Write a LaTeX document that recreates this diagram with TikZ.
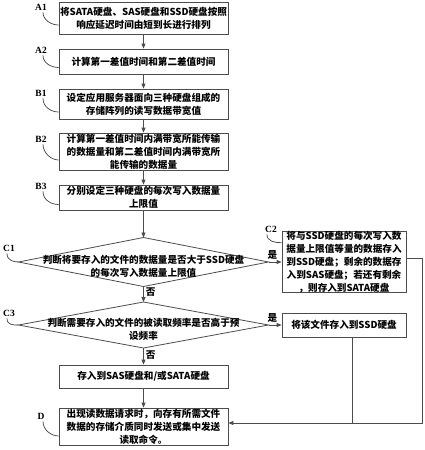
\documentclass[tikz,border=0pt]{standalone}
\usepackage{fontspec}
\setmainfont{Noto Sans CJK SC}
\newfontfamily\labfont{Liberation Serif}
\usetikzlibrary{arrows.meta,shapes.geometric}
\begin{document}
\begin{tikzpicture}[x=1pt,y=-1pt,
  txtfont/.style={font=\fontsize{9.6}{13}\selectfont\bfseries},
  box/.style={draw=black!70, line width=0.8pt, minimum width=169pt, align=center, inner sep=0pt, txtfont},
  sidebox/.style={draw=black!70, line width=0.8pt, minimum width=124pt, align=center, inner sep=0pt, txtfont},
  dia/.style={draw=black!70, line width=0.8pt, shape=diamond, inner sep=0pt, outer sep=0pt, minimum width=250pt},
  diatext/.style={align=center, inner sep=0pt, txtfont},
  arr/.style={draw=black!70, line width=0.8pt, -{Triangle[length=5pt,width=4pt]}},
  conn/.style={draw=black!70, line width=0.8pt},
  lead/.style={draw=black!75, line width=0.7pt},
  lab/.style={font=\labfont\bfseries\fontsize{9.5}{10}\selectfont, inner sep=0pt},
  yn/.style={txtfont, inner sep=2pt}]
\useasboundingbox (0,0) rectangle (425,450);

% main column
\node[box, minimum height=32pt] (a1) at (143.5,18) {将SATA硬盘、SAS硬盘和SSD硬盘按照\\响应延迟时间由短到长进行排列};
\node[box, minimum height=25pt] (a2) at (143.5,61.5) {计算第一差值时间和第二差值时间};
\node[box, minimum height=30pt] (b1) at (143.5,104) {设定应用服务器面向三种硬盘组成的\\存储阵列的读写数据带宽值};
\node[box, minimum height=37pt] (b2) at (143.5,151.5) {计算第一差值时间内满带宽所能传输\\的数据量和第二差值时间内满带宽所\\能传输的数据量};
\node[box, minimum height=25pt] (b3) at (143.5,197.5) {分别设定三种硬盘的每次写入数据量\\上限值};

\node[dia, minimum height=49pt] (c1) at (143.5,262) {};
\node[diatext] (c1t) at (143.5,266.5) {判断将要存入的文件的数据量是否大于SSD硬盘\\的每次写入数据量上限值};
\node[dia, minimum height=46pt] (c3) at (143.5,325) {};
\node[diatext] (c3t) at (143.5,329.5) {判断需要存入的文件的被读取频率是否高于预\\设频率};

\node[box, minimum height=23pt] (sas) at (143.5,376.5) {存入到SAS硬盘和/或SATA硬盘};
\node[box, minimum height=37pt] (d) at (143.5,426.5) {出现读数据请求时，向存有所需文件\\数据的存储介质同时发送或集中发送\\读取命令。};

% side boxes
\node[sidebox, minimum height=58pt] (c2) at (344,262) {将与SSD硬盘的每次写入数\\据量上限值等量的数据存入\\到SSD硬盘；剩余的数据存\\入到SAS硬盘；若还有剩余\\，则存入到SATA硬盘};
\node[sidebox, minimum height=24pt] (ssd) at (344,325) {将该文件存入到SSD硬盘};

% connectors
\draw[arr] (a1) -- (a2);
\draw[arr] (a2) -- (b1);
\draw[arr] (b1) -- (b2);
\draw[arr] (b2) -- (b3);
\draw[arr] (b3) -- (c1.north);
\draw[arr] (c1.south) -- node[yn, right, pos=0.35] {否} (c3.north);
\draw[arr] (c3.south) -- node[yn, right, pos=0.45] {否} (sas);
\draw[arr] (sas) -- (d);
\draw[arr] (c1.east) -- node[yn, above, pos=0.3] {是} (c2.west);
\draw[arr] (c3.east) -- node[yn, above, pos=0.3] {是} (ssd.west);

\coordinate (rt) at (422,258);
\coordinate (rb) at (422,423);
\coordinate (jn) at (352,423);
\draw[arr] ([yshift=4pt]c2.east) -- (rt) -- (rb) -- (d.east |- rb);
\draw[conn] (ssd.south -| jn) -- (jn);

% step labels
\node[lab] (la1) at (41,7) {A1};
\node[lab] (la2) at (41,50) {A2};
\node[lab] (lb1) at (41,93) {B1};
\node[lab] (lb2) at (41,139) {B2};
\node[lab] (lb3) at (41,186) {B3};
\node[lab] (lc1) at (9,248) {C1};
\node[lab] (lc3) at (9,313) {C3};
\node[lab] (lc2) at (271,229) {C2};
\node[lab] (ld) at (41,416) {D};

\draw[lead] ([xshift=2pt,yshift=-2pt]la1.south) .. controls +(0,8) and +(-7,0) .. ([yshift=-7pt]a1.west);
\draw[lead] ([xshift=2pt,yshift=-2pt]la2.south) .. controls +(0,8) and +(-7,0) .. ([yshift=-6pt]a2.west);
\draw[lead] ([xshift=2pt,yshift=-2pt]lb1.south) .. controls +(0,9) and +(-7,0) .. ([yshift=-8pt]b1.west);
\draw[lead] ([xshift=2pt,yshift=-2pt]lb2.south) .. controls +(0,9) and +(-7,0) .. ([yshift=-8.5pt]b2.west);
\draw[lead] ([xshift=2pt,yshift=-2pt]lb3.south) .. controls +(0,9) and +(-7,0) .. ([yshift=-7pt]b3.west);
\draw[lead] ([xshift=-2pt,yshift=-2pt]lc1.south) .. controls +(0,7) and +(-5,0) .. (c1.west);
\draw[lead] ([xshift=-2pt,yshift=-2pt]lc3.south) .. controls +(0,7) and +(-5,0) .. (c3.west);
\draw[lead] ([xshift=-4pt,yshift=-2pt]lc2.south) .. controls +(0,7) and +(-7,0) .. ([yshift=-12pt]c2.north west);
\draw[lead] ([xshift=2pt,yshift=-2pt]ld.south) .. controls +(0,9) and +(-7,0) .. ([yshift=-9.5pt]d.west);
\end{tikzpicture}
\end{document}
